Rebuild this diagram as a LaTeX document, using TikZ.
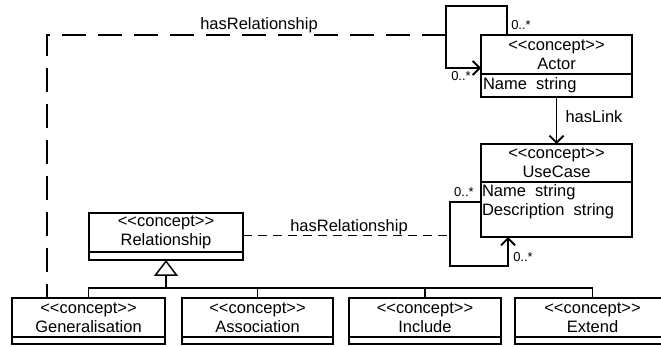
\documentclass[tikz,border=0pt]{standalone}
\usepackage{fontspec}
\setmainfont{Liberation Sans}
\usetikzlibrary{arrows.meta,calc}
\newcommand\stereo{<\kern0pt<concept>\kern0pt>}
\begin{document}
\begin{tikzpicture}[x=1pt,y=-1pt,
  box/.style={draw,line width=1.3pt,inner sep=0pt,outer sep=0pt,align=center,
    font=\fontsize{16.5}{19}\selectfont},
  txt/.style={inner sep=0pt,outer sep=0pt,font=\fontsize{16.5}{19}\selectfont},
  mult/.style={inner sep=0pt,font=\fontsize{13}{13}\selectfont},
  conn/.style={line width=1.8pt},
  barb/.style={-{Straight Barb[length=7pt,width=14pt,line width=1.8pt]}},
  dashA/.style={line width=1.8pt,dash pattern=on 24pt off 12pt},
  dashB/.style={line width=1.8pt,dash pattern=on 9pt off 6pt}]
\clip (0,0) rectangle (661,347);
\fill[white] (0,0) rectangle (661,347);
% Actor
\node[box,minimum width=151pt,minimum height=39pt] (actor) at (556.5,54.5) {\stereo\\Actor};
\node[box,minimum width=151pt,minimum height=23pt,anchor=north] (actorattr) at (actor.south) {};
\node[txt,anchor=west] (actortxt) at ($(actorattr.west)+(2,0)$) {Name\ \ string};
% UseCase
\node[box,minimum width=151pt,minimum height=38pt] (uc) at (556.5,163) {\stereo\\UseCase};
\node[box,minimum width=151pt,minimum height=55pt,anchor=north] (ucattr) at (uc.south) {};
\node[txt,anchor=north west,align=left] (uctxt) at ($(ucattr.north west)+(1,3)$) {Name\ \ string\\Description\ \ string};
% Relationship
\node[box,minimum width=154pt,minimum height=39pt] (rel) at (166,232.5) {\stereo\\Relationship};
\node[box,minimum width=154pt,minimum height=8pt,anchor=north] (relx) at (rel.south) {};
% bottom boxes
\node[box,minimum width=153pt,minimum height=39pt] (gen) at (88.5,317.5) {\stereo\\Generalisation};
\node[box,minimum width=153pt,minimum height=7pt,anchor=north] (genx) at (gen.south) {};
\node[box,minimum width=151pt,minimum height=39pt] (assoc) at (257.5,317.5) {\stereo\\Association};
\node[box,minimum width=151pt,minimum height=7pt,anchor=north] (assocx) at (assoc.south) {};
\node[box,minimum width=152pt,minimum height=39pt] (incl) at (425,317.5) {\stereo\\Include};
\node[box,minimum width=152pt,minimum height=7pt,anchor=north] (inclx) at (incl.south) {};
\node[box,minimum width=155pt,minimum height=39pt] (ext) at (592.5,317.5) {\stereo\\Extend};
\node[box,minimum width=155pt,minimum height=7pt,anchor=north] (extx) at (ext.south) {};
% generalisation tree
\coordinate (hub) at (166,288);
\draw[line width=1.5pt] (gen.north) -- (gen.north |- hub) -- (ext.north |- hub) -- (ext.north);
\draw[line width=1.5pt] (assoc.north) -- (assoc.north |- hub);
\draw[line width=1.5pt] (incl.north) -- (incl.north |- hub);
\draw[line width=1.5pt,-{Triangle[open,length=16pt,width=24pt,line width=1.5pt]}] (hub) -- (relx.south);
% Actor self loop
\coordinate (aloop) at (446,6);
\draw[conn,barb] ($(actor.north west)+(26,0)$) |- (aloop) |- ($(actor.north west)+(0,33)$);
\node[mult] (am1) at (521,25) {0..*};
\node[mult] (am2) at (461,76) {0..*};
% hasRelationship (top, dashed)
\coordinate (dl) at (47,35);
\draw[dashA] (aloop |- actor.north) -- (dl) -- (dl |- gen.north);
\node[txt] (hr1) at (259,25) {hasRelationship};
% hasLink
\draw[conn,barb] (actorattr.south) -- (uc.north);
\node[txt] (hl) at (594,117) {hasLink};
% UseCase self loop
\coordinate (uloop) at (450,266);
\draw[conn,barb] ($(ucattr.north west)+(0,20)$) -| (uloop) -| ($(ucattr.south west)+(27,0)$);
\node[mult] (um1) at (464,192) {0..*};
\node[mult] (um2) at (523,257) {0..*};
% hasRelationship (lower, dashed)
\coordinate (rj) at ($(rel.east)+(0,3)$);
\draw[dashB] (rj) -- (rj -| uloop);
\node[txt] (hr2) at (349,227) {hasRelationship};
\end{tikzpicture}
\end{document}
